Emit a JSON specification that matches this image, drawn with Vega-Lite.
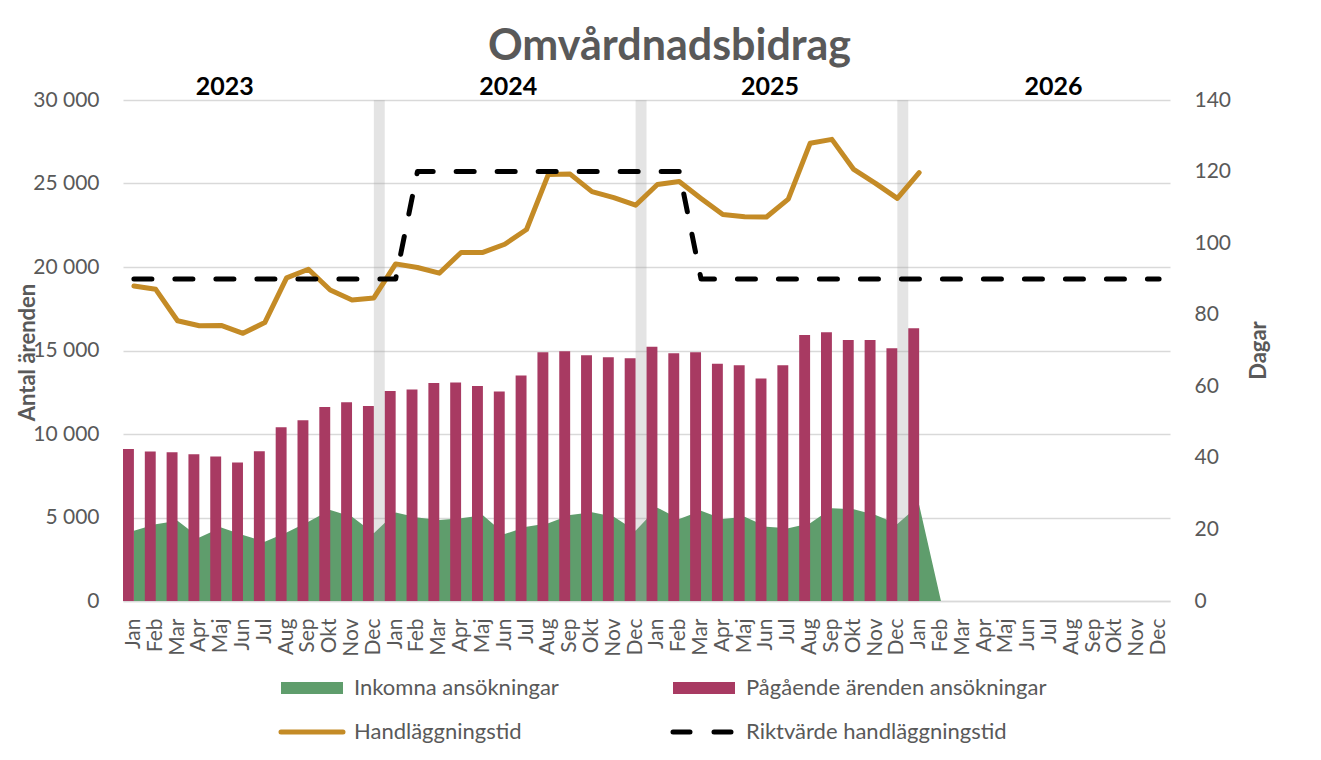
{
  "$schema": "https://vega.github.io/schema/vega-lite/v6.json",
  "width": 1047,
  "height": 501,
  "autosize": {"type": "none"},
  "padding": {"left": 123, "top": 100, "right": 151, "bottom": 159},
  "background": "white",
  "title": {
    "text": "Omvårdnadsbidrag",
    "font": "Lato",
    "fontSize": 43,
    "fontWeight": "bold",
    "color": "#595959",
    "anchor": "middle",
    "frame": "group",
    "dx": 23,
    "offset": 6
  },
  "datasets": {
    "months": [
      {"k": "2023-01", "ink": 4200, "pag": 9100, "hand": 88.0, "rikt": 90, "sep": null},
      {"k": "2023-02", "ink": 4600, "pag": 8950, "hand": 87.1, "rikt": 90, "sep": null},
      {"k": "2023-03", "ink": 4800, "pag": 8900, "hand": 78.3, "rikt": 90, "sep": null},
      {"k": "2023-04", "ink": 3800, "pag": 8780, "hand": 76.9, "rikt": 90, "sep": null},
      {"k": "2023-05", "ink": 4400, "pag": 8650, "hand": 77.0, "rikt": 90, "sep": null},
      {"k": "2023-06", "ink": 3950, "pag": 8300, "hand": 74.8, "rikt": 90, "sep": null},
      {"k": "2023-07", "ink": 3550, "pag": 8960, "hand": 77.8, "rikt": 90, "sep": null},
      {"k": "2023-08", "ink": 4100, "pag": 10400, "hand": 90.3, "rikt": 90, "sep": null},
      {"k": "2023-09", "ink": 4750, "pag": 10820, "hand": 92.7, "rikt": 90, "sep": null},
      {"k": "2023-10", "ink": 5450, "pag": 11620, "hand": 86.9, "rikt": 90, "sep": null},
      {"k": "2023-11", "ink": 5050, "pag": 11900, "hand": 84.1, "rikt": 90, "sep": null},
      {"k": "2023-12", "ink": 4050, "pag": 11680, "hand": 84.7, "rikt": 90, "sep": 30000},
      {"k": "2024-01", "ink": 5300, "pag": 12580, "hand": 94.2, "rikt": 90, "sep": null},
      {"k": "2024-02", "ink": 5000, "pag": 12660, "hand": 93.2, "rikt": 120, "sep": null},
      {"k": "2024-03", "ink": 4850, "pag": 13050, "hand": 91.6, "rikt": 120, "sep": null},
      {"k": "2024-04", "ink": 4950, "pag": 13090, "hand": 97.4, "rikt": 120, "sep": null},
      {"k": "2024-05", "ink": 5130, "pag": 12870, "hand": 97.4, "rikt": 120, "sep": null},
      {"k": "2024-06", "ink": 4010, "pag": 12550, "hand": 99.7, "rikt": 120, "sep": null},
      {"k": "2024-07", "ink": 4450, "pag": 13500, "hand": 103.8, "rikt": 120, "sep": null},
      {"k": "2024-08", "ink": 4650, "pag": 14890, "hand": 119.2, "rikt": 120, "sep": null},
      {"k": "2024-09", "ink": 5150, "pag": 14950, "hand": 119.3, "rikt": 120, "sep": null},
      {"k": "2024-10", "ink": 5310, "pag": 14710, "hand": 114.4, "rikt": 120, "sep": null},
      {"k": "2024-11", "ink": 5050, "pag": 14590, "hand": 112.7, "rikt": 120, "sep": null},
      {"k": "2024-12", "ink": 4210, "pag": 14530, "hand": 110.6, "rikt": 120, "sep": 30000},
      {"k": "2025-01", "ink": 5590, "pag": 15230, "hand": 116.4, "rikt": 120, "sep": null},
      {"k": "2025-02", "ink": 4910, "pag": 14830, "hand": 117.2, "rikt": 120, "sep": null},
      {"k": "2025-03", "ink": 5410, "pag": 14890, "hand": 112.5, "rikt": 90, "sep": null},
      {"k": "2025-04", "ink": 4910, "pag": 14210, "hand": 108.0, "rikt": 90, "sep": null},
      {"k": "2025-05", "ink": 5050, "pag": 14110, "hand": 107.4, "rikt": 90, "sep": null},
      {"k": "2025-06", "ink": 4450, "pag": 13330, "hand": 107.3, "rikt": 90, "sep": null},
      {"k": "2025-07", "ink": 4350, "pag": 14110, "hand": 112.3, "rikt": 90, "sep": null},
      {"k": "2025-08", "ink": 4650, "pag": 15930, "hand": 127.9, "rikt": 90, "sep": null},
      {"k": "2025-09", "ink": 5550, "pag": 16090, "hand": 129.0, "rikt": 90, "sep": null},
      {"k": "2025-10", "ink": 5490, "pag": 15630, "hand": 120.6, "rikt": 90, "sep": null},
      {"k": "2025-11", "ink": 5150, "pag": 15630, "hand": 116.7, "rikt": 90, "sep": null},
      {"k": "2025-12", "ink": 4610, "pag": 15130, "hand": 112.5, "rikt": 90, "sep": 30000},
      {"k": "2026-01", "ink": 5750, "pag": 16330, "hand": 119.7, "rikt": 90, "sep": null},
      {"k": "2026-02", "ink": 0, "pag": null, "hand": null, "rikt": 90, "sep": null},
      {"k": "2026-03", "ink": null, "pag": null, "hand": null, "rikt": 90, "sep": null},
      {"k": "2026-04", "ink": null, "pag": null, "hand": null, "rikt": 90, "sep": null},
      {"k": "2026-05", "ink": null, "pag": null, "hand": null, "rikt": 90, "sep": null},
      {"k": "2026-06", "ink": null, "pag": null, "hand": null, "rikt": 90, "sep": null},
      {"k": "2026-07", "ink": null, "pag": null, "hand": null, "rikt": 90, "sep": null},
      {"k": "2026-08", "ink": null, "pag": null, "hand": null, "rikt": 90, "sep": null},
      {"k": "2026-09", "ink": null, "pag": null, "hand": null, "rikt": 90, "sep": null},
      {"k": "2026-10", "ink": null, "pag": null, "hand": null, "rikt": 90, "sep": null},
      {"k": "2026-11", "ink": null, "pag": null, "hand": null, "rikt": 90, "sep": null},
      {"k": "2026-12", "ink": null, "pag": null, "hand": null, "rikt": 90, "sep": null}
    ],
    "years": [
      {"k": "2023-05", "year": "2023"},
      {"k": "2024-06", "year": "2024"},
      {"k": "2025-06", "year": "2025"},
      {"k": "2026-07", "year": "2026"}
    ]
  },
  "data": {"name": "months"},
  "layer": [
    {
      "layer": [
        {
          "mark": {"type": "area", "color": "#5f9d6c"},
          "transform": [{"filter": "datum.ink != null"}],
          "encoding": {
            "x": {
              "field": "k",
              "type": "ordinal",
              "sort": "ascending",
              "scale": {"type": "band", "paddingInner": 0, "paddingOuter": 0},
              "axis": {
                "title": null,
                "labelAngle": 270,
                "labelAlign": "right",
                "labelBaseline": "middle",
                "labelPadding": 17,
                "ticks": false,
                "labelOverlap": false,
                "domainColor": "#d9d9d9",
                "domainWidth": 1.5,
                "labelExpr": "['Jan','Feb','Mar','Apr','Maj','Jun','Jul','Aug','Sep','Okt','Nov','Dec'][toNumber(slice(datum.value, 5)) - 1]"
              }
            },
            "y": {
              "field": "ink",
              "type": "quantitative",
              "scale": {"domain": [0, 30000], "nice": false, "zero": true},
              "axis": {
                "title": "Antal ärenden",
                "values": [0, 5000, 10000, 15000, 20000, 25000, 30000],
                "format": ",d",
                "domain": false,
                "ticks": false,
                "labelPadding": 24,
                "gridColor": "#d9d9d9",
                "gridWidth": 1.3,
                "titleAngle": 270,
                "titleX": -96,
                "titleY": 252,
                "titleAlign": "center",
                "titleBaseline": "middle"
              }
            },
            "color": {
              "datum": "Inkomna ansökningar",
              "type": "nominal",
              "scale": {
                "domain": ["Inkomna ansökningar", "Pågående ärenden ansökningar", "Handläggningstid", "Riktvärde handläggningstid"],
                "range": ["#5f9d6c", "#a83a62", "#c48b26", "#000000"]
              },
              "legend": {
                "orient": "none",
                "legendX": 178,
                "legendY": 577,
                "columns": 2,
                "direction": "horizontal",
                "title": null,
                "padding": 0,
                "symbolType": "stroke",
                "symbolSize": 3844,
                "labelFont": "Lato",
                "labelFontSize": 22,
                "labelColor": "#595959",
                "labelOffset": 31,
                "labelLimit": 600,
                "columnPadding": 90,
                "rowPadding": 9,
                "encode": {
                  "symbols": {
                    "update": {
                      "shape": {"value": "stroke"},
                      "size": {"value": 3844},
                      "fill": {"value": "transparent"},
                      "fillOpacity": {"value": 0},
                      "opacity": {"value": 1},
                      "strokeOpacity": {"value": 1},
                      "stroke": {"signal": "scale('color', datum.value)"},
                      "strokeWidth": {"signal": "indexof(['Inkomna ansökningar', 'Pågående ärenden ansökningar'], datum.value) >= 0 ? 12 : 5"},
                      "strokeCap": {"signal": "indexof(['Inkomna ansökningar', 'Pågående ärenden ansökningar'], datum.value) >= 0 ? 'butt' : 'round'"},
                      "strokeDash": {"signal": "datum.value === 'Riktvärde handläggningstid' ? [17, 24] : [1, 0]"},
                      "strokeDashOffset": {"value": 0}
                    }
                  }
                }
              }
            }
          }
        },
        {
          "mark": {"type": "bar", "color": "#a83a62"},
          "transform": [{"filter": "datum.pag != null"}],
          "encoding": {
            "x": {"field": "k", "type": "ordinal", "sort": "ascending"},
            "xOffset": {"datum": "P", "scale": {"domain": ["P", "S"], "paddingInner": 0, "paddingOuter": 0}},
            "y": {"field": "pag", "type": "quantitative"},
            "color": {"datum": "Pågående ärenden ansökningar", "type": "nominal"}
          }
        },
        {
          "mark": {"type": "bar", "color": "#a2a2a2", "opacity": 0.29},
          "transform": [{"filter": "datum.sep != null"}],
          "encoding": {
            "x": {"field": "k", "type": "ordinal", "sort": "ascending"},
            "xOffset": {"datum": "S"},
            "y": {"field": "sep", "type": "quantitative"}
          }
        },
        {
          "data": {"name": "years"},
          "mark": {"type": "text", "font": "Lato", "fontSize": 25, "fontWeight": "bold", "color": "#000000", "baseline": "middle", "align": "center"},
          "encoding": {
            "x": {"field": "k", "type": "ordinal", "sort": "ascending", "bandPosition": 0.66},
            "y": {"datum": 30800, "type": "quantitative"},
            "text": {"field": "year"}
          }
        }
      ]
    },
    {
      "layer": [
        {
          "mark": {"type": "line", "color": "#c48b26", "strokeWidth": 5, "strokeCap": "round", "strokeJoin": "round"},
          "transform": [{"filter": "datum.hand != null"}],
          "encoding": {
            "x": {"field": "k", "type": "ordinal", "sort": "ascending"},
            "y": {
              "field": "hand",
              "type": "quantitative",
              "scale": {"domain": [0, 140], "nice": false},
              "axis": {
                "orient": "right",
                "title": "Dagar",
                "values": [0, 20, 40, 60, 80, 100, 120, 140],
                "grid": false,
                "domain": false,
                "ticks": false,
                "labelPadding": 24,
                "titleAngle": 270,
                "titleX": 88,
                "titleY": 250,
                "titleAlign": "center",
                "titleBaseline": "middle"
              }
            },
            "color": {"datum": "Handläggningstid", "type": "nominal"}
          }
        },
        {
          "mark": {"type": "line", "color": "#000000", "strokeWidth": 5, "strokeCap": "round", "strokeJoin": "round", "strokeDash": [18, 23]},
          "encoding": {
            "x": {"field": "k", "type": "ordinal", "sort": "ascending"},
            "y": {"field": "rikt", "type": "quantitative"},
            "color": {"datum": "Riktvärde handläggningstid", "type": "nominal"}
          }
        }
      ]
    }
  ],
  "resolve": {"scale": {"y": "independent"}, "axis": {"y": "independent"}},
  "config": {
    "locale": {
      "number": {"decimal": ",", "thousands": " ", "grouping": [3], "currency": ["", " kr"]}
    },
    "view": {"stroke": null},
    "font": "Lato",
    "axis": {
      "labelFont": "Lato",
      "labelFontSize": 21,
      "labelColor": "#595959",
      "titleFont": "Lato",
      "titleFontSize": 22,
      "titleFontWeight": "bold",
      "titleColor": "#595959"
    }
  }
}
